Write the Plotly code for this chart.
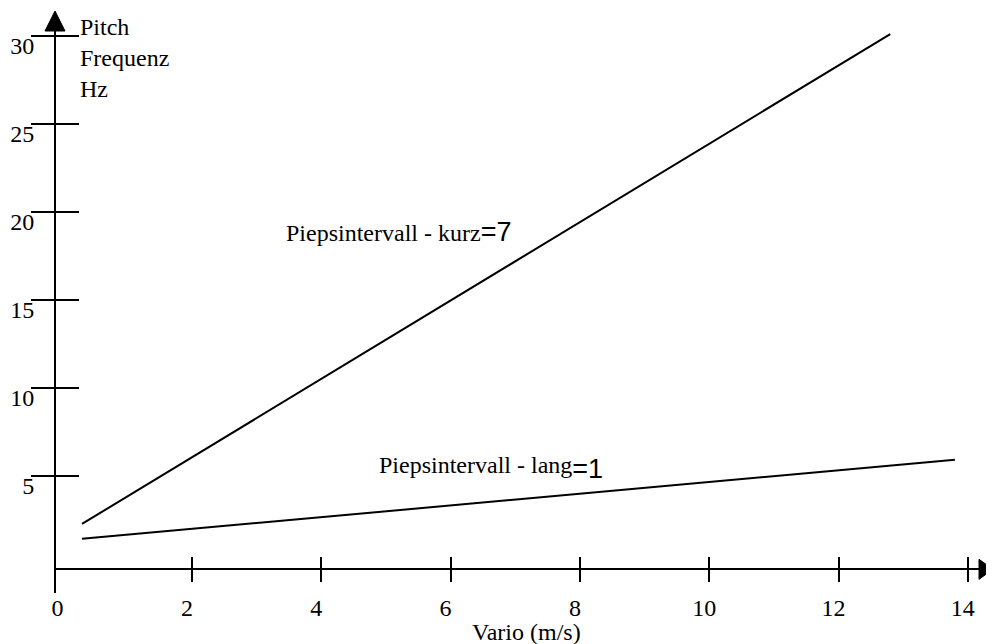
import plotly.graph_objects as go

W, H = 994, 644
OFF = 8  # page body margin offset of the rendered figure

# ---- data ----
vario_kurz = [0.3, 12.8]
pitch_kurz = [2.25, 30.1]
vario_lang = [0.3, 13.8]
pitch_lang = [1.4, 5.9]

x_tickvals = [0, 2, 4, 6, 8, 10, 12, 14]
x_ticktext = ["0", "2", "4", "6", "8", "10", "12", "14"]
x_tickmarks = [2, 4, 6, 8, 10, 12, 14]
y_tickvals = [5, 10, 15, 20, 25, 30]
y_ticktext = ["5", "10", "15", "20", "25", "30"]

label_kurz = "Piepsintervall - kurz"
value_kurz = "=7"
label_lang = "Piepsintervall - lang"
value_lang = "=1"
y_title_lines = ["Pitch", "Frequenz", "Hz"]
x_title = "Vario (m/s)"

SERIF = "Liberation Serif, Times New Roman, serif"
SANS = "Liberation Sans, Arial, sans-serif"


def fx(x):
    """screen x (px) -> paper x"""
    return (x - OFF) / W


def fy(y):
    """screen y (px) -> paper y"""
    return 1 - (y - OFF) / H


# ---- layout geometry (screen pixels) ----
X0_PX, X_SCALE = 62.6, 64.66      # x=0 position, px per unit
Y0_PX, Y_SCALE = 563.5, 17.59     # y=0 position, px per unit
YAXIS_PX, XAXIS_PX = 55, 569.3
X_LEFT, X_RIGHT = YAXIS_PX, 982
Y_BOTTOM, Y_TOP = 592.7, 28

X_RANGE = [(X_LEFT - X0_PX) / X_SCALE, (X_RIGHT - X0_PX) / X_SCALE]
Y_RANGE = [(Y0_PX - Y_BOTTOM) / Y_SCALE, (Y0_PX - Y_TOP) / Y_SCALE]
X_DOM = [fx(X_LEFT), fx(X_RIGHT)]
Y_DOM = [fy(Y_BOTTOM), fy(Y_TOP)]
X_POS = fy(XAXIS_PX)
Y_POS = fx(YAXIS_PX)

fig = go.Figure()
fig.add_trace(go.Scatter(x=vario_kurz, y=pitch_kurz, mode="lines",
                         line=dict(color="black", width=2), showlegend=False,
                         hoverinfo="skip", cliponaxis=False))
fig.add_trace(go.Scatter(x=vario_lang, y=pitch_lang, mode="lines",
                         line=dict(color="black", width=2), showlegend=False,
                         hoverinfo="skip", cliponaxis=False))

axis_common = dict(showgrid=False, zeroline=False, automargin=False)

fig.update_layout(
    width=W, height=H,
    margin=dict(l=0, r=0, t=0, b=0, pad=0, autoexpand=False),
    showlegend=False,
    paper_bgcolor="white", plot_bgcolor="white",
    font=dict(family=SERIF, size=24, color="black"),
    xaxis=dict(
        **axis_common, domain=X_DOM, range=X_RANGE, anchor="free", position=X_POS,
        showline=True, linecolor="black", linewidth=2,
        tickmode="array", tickvals=x_tickvals, ticktext=x_ticktext, ticks="",
        tickfont=dict(family=SERIF, size=24, color="black"),
        ticklabelstandoff=17, ticklabelshift=-5,
    ),
    xaxis2=dict(
        **axis_common, domain=X_DOM, range=X_RANGE, anchor="free", position=X_POS,
        overlaying="x", side="bottom", showline=False,
        tickmode="array", tickvals=x_tickmarks, ticks="outside", ticklen=12,
        tickwidth=1.5, tickcolor="black", showticklabels=False,
    ),
    xaxis3=dict(
        **axis_common, domain=X_DOM, range=X_RANGE, anchor="free", position=X_POS,
        overlaying="x", side="top", showline=False,
        tickmode="array", tickvals=x_tickmarks, ticks="outside", ticklen=12,
        tickwidth=1.5, tickcolor="black", showticklabels=False,
    ),
    yaxis=dict(
        **axis_common, domain=Y_DOM, range=Y_RANGE, anchor="free", position=Y_POS,
        showline=True, linecolor="black", linewidth=2,
        tickmode="array", tickvals=y_tickvals, ticktext=y_ticktext,
        ticks="outside", ticklen=23, tickwidth=1.5, tickcolor="black",
        tickfont=dict(family=SERIF, size=24, color="black"),
        ticklabelstandoff=-8, ticklabelshift=10,
    ),
    yaxis2=dict(
        **axis_common, domain=Y_DOM, range=Y_RANGE, anchor="free", position=Y_POS,
        overlaying="y", side="right", showline=False,
        tickmode="array", tickvals=y_tickvals, ticks="outside", ticklen=23,
        tickwidth=1.5, tickcolor="black", showticklabels=False,
    ),
)

# invisible traces so the overlay axes are drawn
for xa, ya in (("x2", "y"), ("x3", "y"), ("x", "y2")):
    fig.add_trace(go.Scatter(x=[None], y=[None], xaxis=xa, yaxis=ya,
                             showlegend=False, hoverinfo="skip"))

# arrow heads (screen px)
fig.add_shape(type="path", xref="paper", yref="paper",
              path=f"M {fx(55)} {fy(11)} L {fx(45)} {fy(31)} L {fx(65)} {fy(31)} Z",
              fillcolor="black", line=dict(color="black", width=1))
fig.add_shape(type="path", xref="paper", yref="paper",
              path=f"M {fx(993)} {fy(569.3)} L {fx(979)} {fy(559.3)} L {fx(979)} {fy(579.3)} Z",
              fillcolor="black", line=dict(color="black", width=1))

# y-axis title
fig.add_annotation(xref="paper", yref="paper", x=fx(78), y=fy(12), xanchor="left",
                   yanchor="top", showarrow=False, align="left",
                   text="<br>".join(y_title_lines),
                   font=dict(family=SERIF, size=24, color="black"))

# x-axis title
fig.add_annotation(xref="paper", yref="paper", x=fx(526.5), y=fy(631.5), xanchor="center",
                   yanchor="middle", showarrow=False, text=x_title,
                   font=dict(family=SERIF, size=24, color="black"))

# line labels
fig.add_annotation(x=3.42, y=18.85, xanchor="left", yanchor="middle", showarrow=False,
                   text=f"{label_kurz}<span style='font-family:Liberation Sans;font-size:27px'>{value_kurz}</span>",
                   font=dict(family=SERIF, size=24, color="black"))
fig.add_annotation(x=4.86, y=5.42, xanchor="left", yanchor="middle", showarrow=False,
                   text=f"{label_lang}<sub><span style='font-family:Liberation Sans;font-size:27px'>{value_lang}</span></sub>",
                   font=dict(family=SERIF, size=24, color="black"))

fig.write_html("out.html")
